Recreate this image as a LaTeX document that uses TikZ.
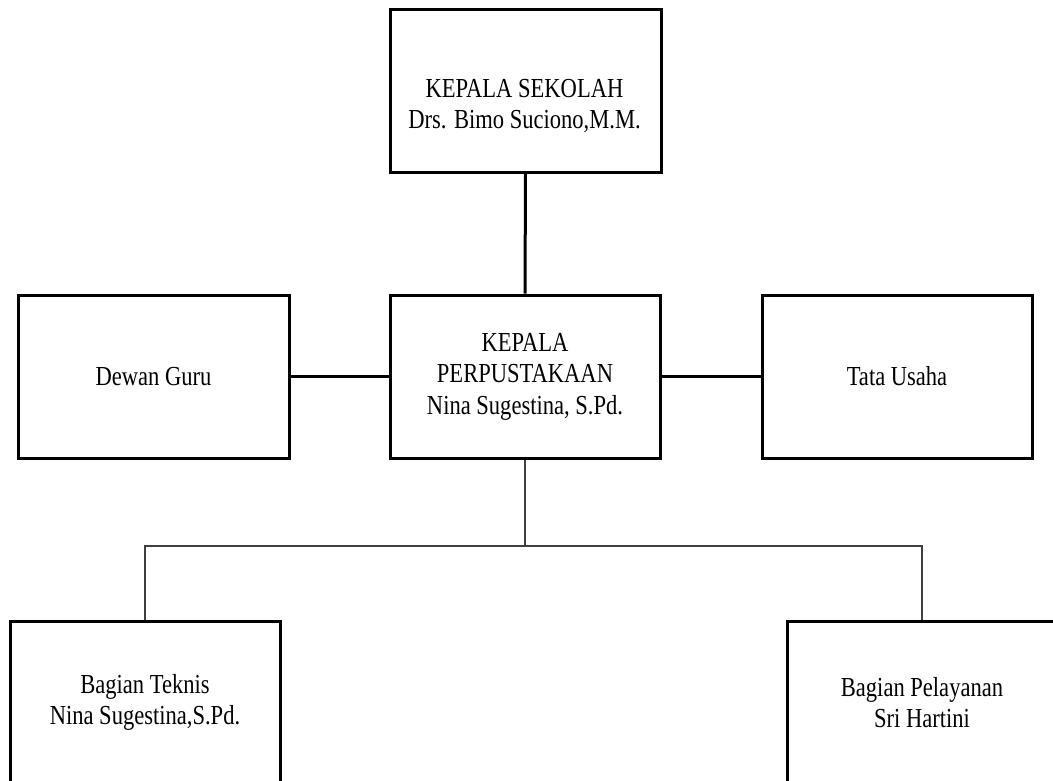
\documentclass[tikz,border=0pt]{standalone}
\usepackage{fontspec}
\setmainfont{Liberation Serif}[FakeStretch=0.82]
\begin{document}
\begin{tikzpicture}[x=1pt,y=-1pt,
  orgbox/.style={draw=black, line width=3pt, minimum width=271pt, minimum height=163pt, inner sep=0pt, align=center,
     font=\fontsize{27.5}{31.5}\selectfont},
  txt/.style={inner sep=0pt, align=center, font=\fontsize{27.5}{31.5}\selectfont},
  strong/.style={draw=black, line width=3pt},
  soft/.style={draw=black!75, line width=2.9pt}]
\useasboundingbox (0,0) rectangle (1053,780);
\clip (0,0) rectangle (1053,780);
\node[orgbox] (top) at (525.5,90.5) {};
\node[txt] (toptxt) at (524.5,106) {KEPALA SEKOLAH\\Drs. Bimo Suciono,M.M.};
\node[orgbox, minimum width=270pt] (mid) at (525,376.5) {KEPALA\\PERPUSTAKAAN\\Nina Sugestina, S.Pd.};
\node[orgbox] (dewan) at (153.5,376.5) {Dewan Guru};
\node[orgbox, minimum width=270pt] (tata) at (897,376.5) {Tata Usaha};
\node[orgbox, minimum width=270pt] (bl) at (145,702.5) {Bagian Teknis\\Nina Sugestina,S.Pd.};
\node[orgbox, minimum width=270pt] (br) at (922,702.5) {Bagian Pelayanan\\Sri Hartini};
\coordinate (junc) at (525,546);
\draw[strong] (top.south) -- (mid.north);
\draw[strong] (dewan.east) -- (mid.west);
\draw[strong] (mid.east) -- (tata.west);
\draw[soft] (mid.south) -- (junc);
\draw[soft, line join=miter] (junc) -| (bl.north);
\draw[soft, line join=miter] (junc) -| (br.north);
\end{tikzpicture}
\end{document}
